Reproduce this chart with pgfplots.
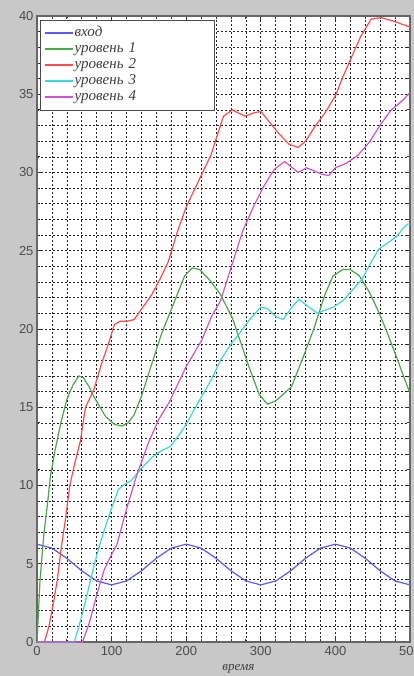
\documentclass[border=0pt]{standalone}
\usepackage{fontspec}
\setmainfont{Liberation Serif}
\newfontfamily\ticksf{Liberation Sans}
\usepackage{pgfplots}
\pgfplotsset{compat=1.18}
\definecolor{bg}{RGB}{200,200,200}
\definecolor{cB}{RGB}{90,90,255}
\definecolor{cG}{RGB}{70,170,70}
\definecolor{cR}{RGB}{255,75,75}
\definecolor{cC}{RGB}{60,215,215}
\definecolor{cM}{RGB}{210,80,210}
\begin{document}
\begin{tikzpicture}[x=1pt,y=1pt]
\useasboundingbox (0,0) rectangle (414,676);
\fill[bg] (0,0) rectangle (414,676);
\clip (0,0) rectangle (414,676);
\begin{axis}[
  at={(37pt,34pt)}, anchor=south west,
  width=373pt, height=626pt, scale only axis,
  xmin=0, xmax=500, ymin=0, ymax=40,
  xtick={0,100,...,500}, ytick={0,5,...,40},
  minor x tick num=4, minor y tick num=4,
  grid=both, clip=false,
  major grid style={black!85, line width=0.7pt, dash pattern=on 2pt off 2pt},
  minor grid style={black!85, line width=0.6pt, dash pattern=on 2pt off 2pt},
  axis background/.style={fill=white},
  axis line style={black!60, line width=1.1pt},
  major tick length=5pt, minor tick length=3pt,
  tick style={black!80, line width=0.8pt},
  /pgf/number format/assume math mode=true,
  tick label style={font=\ticksf\fontsize{13}{13}\selectfont, text=black!70},
  xticklabel style={yshift=-1pt},
  xlabel={время},
  xlabel style={font=\itshape\fontsize{13}{13}\selectfont, text=black!75, at={(rel axis cs:0.54,0)}, anchor=center, yshift=-27pt},
  legend style={at={(rel axis cs:0.008,0.994)}, anchor=north west, fill=white, draw=black!70, line width=0.8pt,
     font=\itshape\fontsize{15}{15}\selectfont, inner xsep=4pt, inner ysep=6pt, row sep=2pt,
     nodes={inner sep=1pt, text height=9pt, text depth=3pt, text width=135pt, align=left, text=black!75}},
  legend cell align=left,
  legend image code/.code={\draw[#1, line width=1.3pt] (0pt,0pt) -- (28pt,0pt);},
  every axis plot/.append style={line width=1.2pt},
]
\addplot[cB] coordinates {(0,6.25) (20,6.0) (40,5.35) (60,4.55) (80,3.9) (100,3.65) (120,3.9) (140,4.55) (160,5.35) (180,6.0) (200,6.25) (220,6.0) (240,5.35) (260,4.55) (280,3.9) (300,3.65) (320,3.9) (340,4.55) (360,5.35) (380,6.0) (400,6.25) (420,6.0) (440,5.35) (460,4.55) (480,3.9) (500,3.65)};
\addlegendentry{вход}
\addplot[cG] coordinates {(0,0) (4,3.9) (9,6.8) (14,8.8) (18,10.6) (24,12.2) (32,14) (40,15.5) (48,16.4) (56,17) (62,16.9) (70,16.3) (76,15.7) (92,14.4) (104,13.9) (114,13.8) (122,14.0) (130,14.5) (140,15.7) (150,17.2) (167,19.7) (188,22.2) (198,23.4) (208,23.9) (218,23.8) (232,23.1) (246,22.2) (262,20.7) (284,17.6) (298,15.8) (309,15.2) (320,15.4) (341,16.3) (356,18.1) (371,20) (386,22.2) (397,23.4) (410,23.8) (420,23.8) (432,23.4) (445,22.4) (458,21.1) (470,19.7) (482,18.2) (492,16.9) (500,15.9)};
\addlegendentry{уровень 1}
\addplot[cR] coordinates {(0,0) (10,0) (16,1) (22,2.5) (27,3.9) (33,6.2) (38,7.8) (44,10) (51,11.5) (58,12.8) (65,15) (76,16.1) (86,17.7) (96,19.1) (104,20.3) (112,20.5) (122,20.5) (130,20.6) (142,21.4) (154,22.2) (166,23.3) (176,24.3) (188,26.2) (200,27.8) (216,29.4) (233,31.1) (250,33.6) (262,34) (270,33.8) (279,33.6) (290,33.8) (300,33.9) (312,33.2) (324,32.5) (338,31.8) (350,31.6) (360,32.0) (372,32.9) (386,33.8) (400,34.9) (410,36.1) (421,37.3) (434,38.7) (448,39.8) (461,39.9) (468,39.8) (476,39.7) (488,39.5) (500,39.3)};
\addlegendentry{уровень 2}
\addplot[cC] coordinates {(0,0) (50,0) (58,1.3) (67,3) (76,4.8) (84,6.2) (96,8) (109,9.75) (118,10.1) (126,10.3) (140,11.1) (154,11.8) (166,12.2) (179,12.5) (190,13.2) (200,13.9) (210,14.8) (221,15.7) (234,16.8) (246,18) (258,18.9) (271,19.7) (285,20.6) (300,21.4) (309,21.3) (320,20.8) (330,20.6) (340,21.3) (351,21.9) (362,21.5) (376,21.0) (386,21.2) (397,21.4) (410,21.8) (421,22.4) (436,23.2) (447,24.2) (458,25.1) (470,25.5) (482,25.9) (492,26.5) (497,26.7) (500,26.7)};
\addlegendentry{уровень 3}
\addplot[cM] coordinates {(0,0) (61,0) (70,1.2) (80,3) (90,4.6) (100,5.6) (107,6.2) (120,8.5) (134,10.7) (150,12.8) (163,14.2) (177,15.3) (190,16.6) (200,17.6) (210,18.4) (221,19.3) (234,20.8) (246,21.8) (254,23) (262,24.2) (276,26.3) (291,27.9) (305,29.2) (318,30.2) (332,30.7) (340,30.4) (350,30) (361,30.3) (372,30.1) (381,29.9) (391,29.8) (400,30.3) (415,30.6) (430,31.1) (445,31.9) (461,33.1) (475,34) (490,34.6) (500,35.1)};
\addlegendentry{уровень 4}
\end{axis}
\end{tikzpicture}
\end{document}
